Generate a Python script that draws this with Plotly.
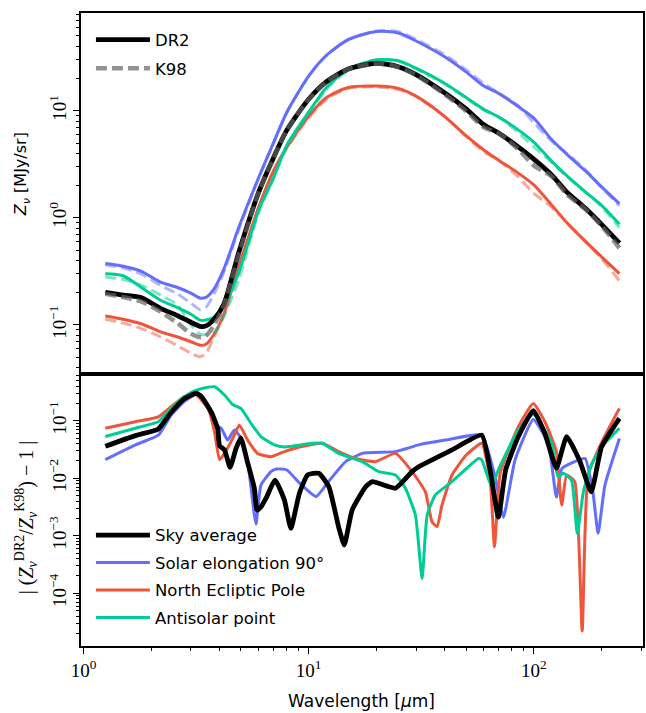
import plotly.graph_objects as go

# ---------------- data: top panel (Z_nu in MJy/sr) ----------------
wavelength = [1.25, 1.5, 1.8, 2.2, 2.6, 3.0, 3.3, 3.5, 3.8, 4.2, 4.9, 6, 7, 8, 10, 12, 15, 20, 25,
              30, 40, 50, 60, 70, 85, 100, 120, 140, 170, 200, 240]

sky_dr2 = [0.202, 0.19, 0.18, 0.143, 0.123, 0.106, 0.097, 0.098, 0.113, 0.156, 0.48, 1.74, 3.69, 6.6,
           12.8, 18.7, 24.5, 27.7, 25.8, 21.8, 14.8, 10.4, 7.41, 6.16, 4.62, 3.54, 2.52, 1.75, 1.22,
           0.869, 0.58]
sky_k98 = [0.195, 0.182, 0.166, 0.133, 0.105, 0.083, 0.077, 0.079, 0.1, 0.151, 0.457, 1.74, 3.67, 6.6,
           12.7, 18.6, 24.5, 27.6, 25.6, 21.5, 14.4, 9.95, 7.0, 6.15, 4.4, 3.08, 2.45, 1.66, 1.2,
           0.84, 0.523]

sol_dr2 = [0.375, 0.354, 0.318, 0.251, 0.225, 0.198, 0.178, 0.181, 0.217, 0.332, 0.82, 2.38, 5.1, 9.7,
           21.1, 33.0, 46.1, 55.0, 53.2, 44.8, 32.1, 23.1, 17.0, 14.5, 11.0, 8.55, 5.38, 3.93, 2.73,
           1.95, 1.36]
sol_k98 = [0.365, 0.342, 0.3, 0.234, 0.196, 0.16, 0.139, 0.146, 0.195, 0.31, 0.78, 2.36, 5.05, 9.65,
           21.0, 32.8, 46.5, 55.6, 54.8, 46.5, 33.5, 24.2, 18.0, 14.6, 11.2, 7.75, 5.2, 4.0, 2.8,
           1.93, 1.30]

nep_dr2 = [0.121, 0.113, 0.1026, 0.0863, 0.0776, 0.0697, 0.0646, 0.066, 0.0818, 0.126, 0.353, 1.26,
           2.79, 4.57, 8.9, 13.3, 16.5, 17.0, 16.2, 13.7, 8.92, 5.85, 4.3, 3.44, 2.63, 2.03, 1.32,
           0.906, 0.6, 0.433, 0.301]
nep_k98 = [0.113, 0.104, 0.093, 0.0772, 0.0646, 0.0545, 0.0505, 0.0545, 0.0769, 0.122, 0.326, 1.23,
           2.73, 4.44, 8.6, 12.8, 16.2, 16.7, 15.8, 13.6, 8.9, 5.8, 4.13, 3.43, 2.43, 1.69, 1.26,
           0.9, 0.6, 0.415, 0.259]

anti_dr2 = [0.301, 0.288, 0.225, 0.170, 0.146, 0.126, 0.111, 0.111, 0.118, 0.153, 0.311, 1.18, 2.4,
            4.78, 9.7, 16.5, 24.5, 30.0, 29.3, 25.0, 18.2, 13.3, 10.3, 8.73, 6.67, 5.09, 3.39, 2.48,
            1.74, 1.31, 0.873]
anti_k98 = [0.281, 0.267, 0.235, 0.19, 0.155, 0.1, 0.082, 0.081, 0.085, 0.12, 0.266, 1.12, 2.35, 4.6,
            9.3, 15.9, 23.8, 29.6, 29.0, 24.5, 17.9, 13.1, 10.1, 8.7, 6.3, 4.6, 3.3, 2.45, 1.72,
            1.27, 0.81]

# ---------------- data: bottom panel |DR2/K98 - 1| ----------------
sky_diff_wl = [1.25, 1.7, 2.15, 2.45, 2.8, 3.17, 3.35, 3.7, 3.95, 4.02, 4.23, 4.48, 4.76, 5.0, 5.35,
               5.74, 5.9, 6.15, 6.47, 7.1, 7.8, 8.34, 9.1, 9.9, 11.1, 12.3, 13.6, 14.4, 15.6, 17.9,
               19.2, 24.3, 28.8, 30.8, 43.3, 58.7, 64, 69.6, 75, 85.4, 99.5, 112, 126, 140, 160,
               180, 200, 240]
sky_diff = [0.036, 0.055, 0.072, 0.14, 0.24, 0.30, 0.26, 0.14, 0.072, 0.037, 0.031, 0.0155, 0.033,
            0.05, 0.019, 0.0067, 0.0028, 0.0032, 0.0045, 0.0093, 0.0042, 0.00135, 0.0055, 0.0114,
            0.0122, 0.0071, 0.0014, 0.00069, 0.0028, 0.0071, 0.0087, 0.0067, 0.013, 0.0158, 0.031,
            0.056, 0.0139, 0.0021, 0.014, 0.053, 0.15, 0.06, 0.015, 0.053, 0.02, 0.0058, 0.035, 0.11]

sol_diff_wl = [1.25, 1.7, 2.15, 2.45, 2.8, 3.17, 3.57, 3.88, 4.09, 4.37, 4.68, 5.0, 5.36, 5.74, 5.84,
               6.14, 6.8, 7.2, 8.0, 9.1, 10.8, 12.3, 14.6, 17.3, 24.3, 30.8, 40.5, 58.7, 67.3, 73.3,
               82.6, 99.5, 116, 126, 133, 150, 169, 183, 193, 207, 240]
sol_diff = [0.021, 0.038, 0.056, 0.125, 0.214, 0.29, 0.164, 0.084, 0.074, 0.046, 0.069, 0.05, 0.019,
            0.0023, 0.0016, 0.0076, 0.013, 0.0145, 0.0139, 0.0083, 0.0048, 0.0089, 0.0194, 0.027,
            0.029, 0.038, 0.046, 0.056, 0.0106, 0.0021, 0.021, 0.105, 0.04, 0.0047, 0.0145, 0.019,
            0.022, 0.0058, 0.0011, 0.0076, 0.049]

nep_diff_wl = [1.25, 1.7, 2.15, 2.45, 2.8, 3.11, 3.57, 3.82, 4.02, 4.23, 4.6, 4.92, 5.36, 5.93, 6.8,
               7.8, 9.1, 11.5, 13.6, 16.2, 19.8, 24.3, 28.8, 33.0, 35.3, 37.2, 39.1, 43.3, 50,
               58.7, 64.0, 66.9, 70.9, 85.4, 99.5, 112, 120, 126, 133, 140, 152, 164, 174, 200, 240]
nep_diff = [0.074, 0.096, 0.117, 0.175, 0.26, 0.30, 0.164, 0.064, 0.021, 0.027, 0.049, 0.084, 0.046,
            0.027, 0.0237, 0.029, 0.035, 0.0405, 0.029, 0.022, 0.0194, 0.027, 0.013, 0.0058, 0.00175,
            0.00144, 0.0034, 0.0114, 0.025, 0.0405, 0.0093, 0.00064, 0.0122, 0.079, 0.20, 0.096,
            0.05, 0.029, 0.0034, 0.0114, 0.0087, 0.000022, 0.011, 0.042, 0.164]

anti_diff_wl = [1.25, 1.7, 2.15, 2.45, 2.8, 3.11, 3.44, 3.82, 4.23, 4.6, 5.0, 5.55, 6.14, 7.04, 7.8,
                10.4, 11.5, 13.6, 17.3, 20.5, 24.3, 26.9, 29.8, 31.9, 33.6, 36.5, 43.3, 56.8, 58.7,
                65.0, 69.6, 85.4, 99.5, 120, 128, 135, 147, 156, 166, 180, 200, 240]
anti_diff = [0.053, 0.074, 0.096, 0.164, 0.26, 0.33, 0.37, 0.39, 0.28, 0.19, 0.164, 0.09, 0.053,
             0.038, 0.035, 0.0405, 0.0405, 0.027, 0.0194, 0.013, 0.0114, 0.0067, 0.0023, 0.00018,
             0.0023, 0.0051, 0.0087, 0.022, 0.021, 0.0071, 0.014, 0.069, 0.13, 0.0405, 0.0106,
             0.0122, 0.0093, 0.0011, 0.0058, 0.017, 0.035, 0.074]

series_names = ["Sky average", "Solar elongation 90°", "North Ecliptic Pole", "Antisolar point"]
x_ticks = [1, 10, 100]
x_tick_text = ["10<sup>0</sup>", "10<sup>1</sup>", "10<sup>2</sup>"]
top_y_ticks = [0.1, 1, 10]
top_y_tick_text = ["10<sup>−1</sup>", "10<sup>0</sup>", "10<sup>1</sup>"]
bot_y_ticks = [1e-4, 1e-3, 1e-2, 1e-1]
bot_y_tick_text = ["10<sup>−4</sup>", "10<sup>−3</sup>", "10<sup>−2</sup>", "10<sup>−1</sup>"]

# ---------------- styling ----------------
BLUE = "#636efa"
RED = "#ef553b"
GREEN = "#00cc96"
BLUE_A = "rgba(99,110,250,0.5)"
RED_A = "rgba(239,85,59,0.5)"
GREEN_A = "rgba(0,204,150,0.5)"
GREY_A = "rgba(100,100,100,0.7)"
DASH = "11px,5px"
SANS = "DejaVu Sans"
SERIF = "Liberation Serif"
TOP_SHAPE = dict(shape="spline", smoothing=0.7)
BOT_SHAPE = dict(shape="spline", smoothing=0.45)

fig = go.Figure()

# top panel -------------------------------------------------------
top_specs = [
    (sol_dr2, sol_k98, BLUE, BLUE_A, 3),
    (nep_dr2, nep_k98, RED, RED_A, 3),
    (anti_dr2, anti_k98, GREEN, GREEN_A, 3),
]
for dr2, k98, c, ca, w in top_specs:
    fig.add_trace(go.Scatter(x=wavelength, y=k98, mode="lines",
                             line=dict(color=ca, width=w, dash=DASH, **TOP_SHAPE),
                             showlegend=False, xaxis="x", yaxis="y"))
    fig.add_trace(go.Scatter(x=wavelength, y=dr2, mode="lines", line=dict(color=c, width=w, **TOP_SHAPE),
                             showlegend=False, xaxis="x", yaxis="y"))

fig.add_trace(go.Scatter(x=wavelength, y=sky_dr2, mode="lines", name="DR2",
                         line=dict(color="black", width=4.8, **TOP_SHAPE), legend="legend",
                         legendgroup="dr2", xaxis="x", yaxis="y"))
fig.add_trace(go.Scatter(x=wavelength, y=sky_k98, mode="lines", name="K98",
                         line=dict(color=GREY_A, width=4.5, dash=DASH, **TOP_SHAPE), legend="legend",
                         legendgroup="k98", xaxis="x", yaxis="y"))

# bottom panel ----------------------------------------------------
bot_specs = [
    (sky_diff_wl, sky_diff, "black", 4.8, series_names[0]),
    (sol_diff_wl, sol_diff, BLUE, 3, series_names[1]),
    (nep_diff_wl, nep_diff, RED, 3, series_names[2]),
    (anti_diff_wl, anti_diff, GREEN, 3, series_names[3]),
]
bot_traces = []
for i, (wl, d, c, w, nm) in enumerate(bot_specs):
    bot_traces.append(go.Scatter(x=wl, y=d, mode="lines", name=nm,
                                 line=dict(color=c, width=w, **BOT_SHAPE),
                                 legend="legend2", legendgroup=nm, legendrank=i + 1,
                                 xaxis="x2", yaxis="y2"))
for t in bot_traces[1:] + bot_traces[:1]:
    fig.add_trace(t)

# ---------------- axes ----------------
minor_x = [m * 10 ** e for e in range(0, 3) for m in range(2, 10)]
minor_top = [m * 10 ** e for e in range(-2, 2) for m in range(2, 10)]
minor_bot = [m * 10 ** e for e in range(-5, 0) for m in range(2, 10)]

split = (646 - 374) / 633.0

axis_common = dict(showline=True, linecolor="black", linewidth=1.6, mirror=True, showgrid=False,
                   zeroline=False, ticklen=6, tickwidth=1.2, tickcolor="black")
minor_common = dict(ticks="outside", ticklen=3, tickwidth=1, tickcolor="black", showgrid=False)

fig.update_layout(
    width=646, height=713,
    margin=dict(l=81, r=1, t=13, b=67),
    paper_bgcolor="white", plot_bgcolor="white",
    font=dict(family=SANS, size=16, color="black"),
    xaxis=dict(type="log", range=[-0.011, 2.485], domain=[0, 1], anchor="y",
               showticklabels=False, ticks="", **axis_common),
    yaxis=dict(type="log", range=[-1.458, 1.913], domain=[split, 1], anchor="x", ticks="outside",
               tickvals=top_y_ticks, ticktext=top_y_tick_text, tickangle=-90,
               tickfont=dict(family=SERIF, size=19),
               minor=dict(tickvals=minor_top, **minor_common), **axis_common),
    xaxis2=dict(type="log", range=[-0.011, 2.485], domain=[0, 1], anchor="y2", ticks="outside",
                tickvals=x_ticks, ticktext=x_tick_text, tickfont=dict(family=SERIF, size=19),
                minor=dict(tickvals=minor_x, **minor_common), **axis_common),
    yaxis2=dict(type="log", range=[-4.917, -0.188], domain=[0, split], anchor="x2", ticks="outside",
                tickvals=bot_y_ticks, ticktext=bot_y_tick_text, tickangle=-90,
                tickfont=dict(family=SERIF, size=19),
                minor=dict(tickvals=minor_bot, **minor_common), **axis_common),
    legend=dict(x=0.0177, y=0.985, xanchor="left", yanchor="top", bgcolor="rgba(0,0,0,0)",
                font=dict(family=SANS, size=16.5), tracegroupgap=4, itemwidth=54),
    legend2=dict(x=0.0177, y=0.2025, xanchor="left", yanchor="top", bgcolor="rgba(0,0,0,0)",
                 font=dict(family=SANS, size=16.5), tracegroupgap=3, itemwidth=54),
)


def px_x(p):
    return (p - 81) / 564.0


def px_y(p):
    return (646 - p) / 633.0


fig.add_annotation(text="<i>Z</i><sub><i>ν</i></sub> [MJy/sr]", textangle=-90, xref="paper", yref="paper",
                   x=px_x(21), y=px_y(174), xanchor="center", yanchor="middle", showarrow=False,
                   font=dict(family=SANS, size=16))
fig.add_annotation(text="| (<i>Z</i><sub><i>ν</i></sub><sup>DR2</sup>/<i>Z</i><sub><i>ν</i></sub><sup>K98</sup>) − 1 |",
                   textangle=-90, xref="paper", yref="paper",
                   x=px_x(26), y=px_y(518), xanchor="center", yanchor="middle", showarrow=False,
                   font=dict(family=SERIF, size=20))
fig.add_annotation(text="Wavelength [<i>μ</i>m]", xref="paper", yref="paper",
                   x=px_x(362), y=px_y(701), xanchor="center", yanchor="middle", showarrow=False,
                   font=dict(family=SANS, size=17))

fig.write_html("out.html")
